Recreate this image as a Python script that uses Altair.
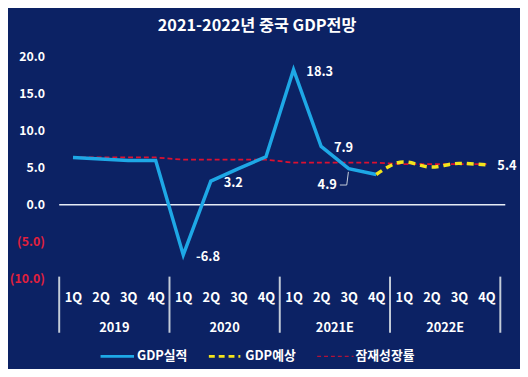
import altair as alt
import pandas as pd

# ---- data ----
quarters = ["1Q", "2Q", "3Q", "4Q"] * 4
years = ["2019", "2020", "2021E", "2022E"]
gdp_actual = [6.4, 6.2, 6.0, 6.0, -6.8, 3.2, 4.9, 6.5, 18.3, 7.9, 4.9, 4.1]
gdp_forecast = [4.1, 5.8, 5.1, 5.6, 5.4]          # 2021 4Q .. 2022 4Q
potential = [6.4, 6.4, 6.4, 6.4, 6.1, 6.1, 6.1, 6.1, 5.7, 5.7, 5.7, 5.7, 5.5, 5.5, 5.5, 5.5]
label_idx = [4, 5, 8, 9, 10]
label_vals = [-6.8, 3.2, 18.3, 7.9, 4.9]
last_label = "5.4"

FONT = "Noto Sans CJK KR"
BG = "#0c2264"

df_act = pd.DataFrame({"i": list(range(len(gdp_actual))), "v": gdp_actual})
df_fc = pd.DataFrame({"i": list(range(11, 11 + len(gdp_forecast))), "v": gdp_forecast})
df_pot = pd.DataFrame({"i": list(range(len(potential))), "v": potential})
df_year = pd.DataFrame({"i": [1.5, 5.5, 9.5, 13.5], "y": years})
df_sep = pd.DataFrame({"i": [-0.5, 3.5, 7.5, 11.5, 15.5]})
df_lab = pd.DataFrame({"i": label_idx, "v": label_vals, "t": [f"{v:.1f}" for v in label_vals]})

xs = alt.Scale(domain=[-0.5, 15.5], nice=False, zero=False)
ys = alt.Scale(domain=[-10, 20], nice=False, zero=False)

x_axis = alt.Axis(
    values=list(range(16)),
    labelExpr="['1Q','2Q','3Q','4Q'][datum.value % 4]",
    domain=False, ticks=False, grid=False, title=None,
    labelColor="white", labelFont=FONT, labelFontSize=13, labelFontWeight="bold",
    labelPadding=13, labelFlush=False, labelOverlap=False)
y_axis = alt.Axis(
    values=[-10, -5, 0, 5, 10, 15, 20],
    labelExpr="datum.value < 0 ? '(' + format(-datum.value, '.1f') + ')' : format(datum.value, '.1f') + '\u2008'",
    labelColor={"condition": {"test": "datum.value < 0", "value": "#e3203c"}, "value": "white"},
    domain=False, ticks=False, grid=False, title=None,
    labelFont=FONT, labelFontSize=12.5, labelFontWeight="bold",
    labelPadding=15, labelFlush=False, labelOverlap=False)

X = alt.X("i:Q", scale=xs, axis=x_axis)
Y = alt.Y("v:Q", scale=ys, axis=y_axis)

# zero line
zero = alt.Chart(pd.DataFrame({"i": [-0.5], "b": [15.68], "v": [0]})).mark_rule(
    color="#e6ecf5", strokeWidth=1.5).encode(x=X, x2="b:Q", y=Y)

pot = alt.Chart(df_pot).mark_line(color="#dc1030", strokeWidth=1.8, strokeDash=[5, 3]).encode(x=X, y=Y)

act = alt.Chart(df_act).mark_line(color="#1ea8e6", strokeWidth=3.5).encode(x=X, y=Y)

fc = alt.Chart(df_fc).mark_line(color="#f2e41c", strokeWidth=3.5, strokeDash=[7, 5],
                                interpolate="monotone").encode(x=X, y=Y)

lab_common = dict(color="white", font=FONT, fontSize=13, fontWeight="bold", baseline="middle")
lab_a = alt.Chart(df_lab[df_lab.i.isin([4, 5, 8, 9])]).mark_text(align="left", dx=13, dy=2, **lab_common).encode(
    x=X, y=Y, text="t:N")
lab_b = alt.Chart(df_lab[df_lab.i == 10]).mark_text(align="right", dx=-12, dy=17, **lab_common).encode(
    x=X, y=Y, text="t:N")
lab_c = alt.Chart(pd.DataFrame({"i": [15], "v": [gdp_forecast[-1]], "t": [last_label]})).mark_text(
    align="left", dx=11, dy=1, **lab_common).encode(x=X, y=Y, text="t:N")

leader = alt.Chart(pd.DataFrame({"i": [9.68, 9.93, 9.99], "v": [2.67, 2.67, 4.45], "o": [0, 1, 2]})).mark_line(
    color="#c8d0dc", strokeWidth=1).encode(x=X, y=Y, order="o:Q")

# year labels and separators
yr = alt.Chart(df_year).mark_text(color="white", font=FONT, fontSize=13, fontWeight="bold",
                                  baseline="middle").encode(
    x=X, y=alt.value(275), text="y:N")
sep = alt.Chart(df_sep).mark_rule(color="#c4ccd8", strokeWidth=2).encode(
    x=X, y=alt.value(223), y2=alt.value(280))

title = alt.Chart(pd.DataFrame({"t": ["2021-2022년 중국 GDP전망"]})).mark_text(
    color="white", font=FONT, fontSize=16.5, fontWeight="bold", baseline="middle").encode(
    x=alt.value(201), y=alt.value(-31), text="t:N")

# legend
leg_y = 304
leg1 = alt.Chart(pd.DataFrame({"t": ["GDP실적"]})).mark_rule(color="#1ea8e6", strokeWidth=3).encode(
    x=alt.value(42), x2=alt.value(76), y=alt.value(leg_y))
leg2 = alt.Chart(pd.DataFrame({"t": ["GDP예상"]})).mark_rule(color="#f2e41c", strokeWidth=3, strokeDash=[6, 4]).encode(
    x=alt.value(152), x2=alt.value(184), y=alt.value(leg_y))
leg3 = alt.Chart(pd.DataFrame({"t": ["잠재성장률"]})).mark_rule(color="#b0123a", strokeWidth=1.5, strokeDash=[4, 3]).encode(
    x=alt.value(262), x2=alt.value(299), y=alt.value(leg_y))
legt = alt.Chart(pd.DataFrame({"t": ["GDP실적", "GDP예상", "잠재성장률"], "px": [79, 189, 301]})).mark_text(
    color="white", font=FONT, fontSize=13, fontWeight="bold", align="left", baseline="middle").encode(
    x=alt.X("px:Q", scale=None, axis=None), y=alt.value(leg_y), text="t:N")

chart = alt.layer(
    zero, pot, act, fc, leader, lab_a, lab_b, lab_c, yr, sep, title, leg1, leg2, leg3, legt
).properties(
    width=448, height=225,
    autosize=alt.AutoSizeParams(type="none"),
    padding={"left": 52, "top": 47, "right": 20, "bottom": 89},
    background=BG,
).configure_view(stroke=None)

chart.save("out.html", embed_options={"renderer": "svg", "actions": False})
